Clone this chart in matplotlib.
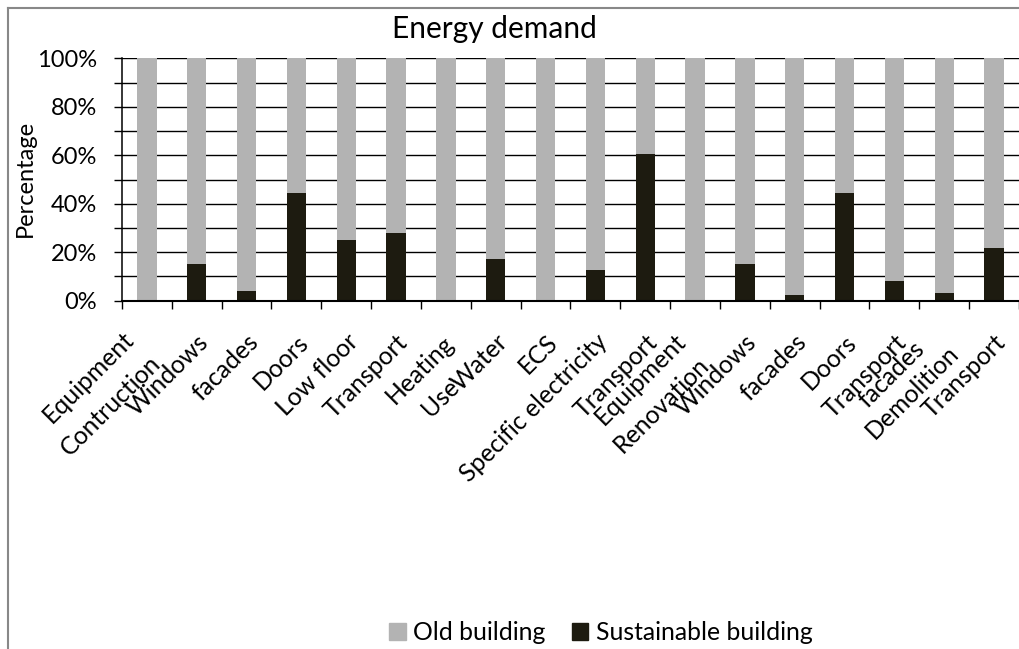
import matplotlib
matplotlib.use('Agg')
import matplotlib.pyplot as plt
from matplotlib.lines import Line2D
from matplotlib.patches import Patch
import numpy as np

plt.rcParams['font.family'] = ['Lato', 'DejaVu Sans']

# Data (percent of energy demand).
categories = ['Equipment', 'Windows', 'facades', 'Doors', 'Low floor', 'Transport',
              'Heating', 'Water', 'ECS', 'Specific electricity', 'Transport',
              'Equipment', 'Windows', 'facades', 'Doors', 'Transport', 'facades',
              'Transport']
groups = ['Contruction', 'Use', 'Renovation', 'Demolition']
group_first = [0, 6, 11, 16]
sustainable = [0, 15.1, 4.0, 44.6, 25.2, 28.1, 0, 17.3, 0, 12.7, 60.5, 0,
               15.1, 2.3, 44.6, 8.1, 3.2, 21.7]
old = [100, 84.9, 96.0, 55.4, 74.8, 71.9, 100, 82.7, 100, 87.3, 39.5, 100,
       84.9, 97.7, 55.4, 91.9, 96.8, 78.3]

GREY = '#b3b3b3'
DARK = '#1d1b10'
W, H = 1020, 649
FS = 17
FS_CAT = 17.8

fig = plt.figure(figsize=(W / 100, H / 100), dpi=100)
ax_top, ax_bot = 57.5, 300.7
ax = fig.add_axes([122 / W, 1 - ax_bot / H, (1019 - 122) / W, (ax_bot - ax_top) / H])

x = np.arange(len(categories)) + 0.5
ax.bar(x, sustainable, width=0.39, color=DARK, label='Sustainable building')
ax.bar(x, old, width=0.39, bottom=sustainable, color=GREY, label='Old building')

ax.set_xlim(0, len(categories))
ax.set_ylim(0, 100.4)
ax.set_axisbelow(True)

ax.set_yticks(np.arange(0, 101, 20))
ax.set_yticks(np.arange(10, 100, 20), minor=True)
ax.set_yticklabels(['%d%%' % v for v in range(0, 101, 20)], fontsize=FS)
ax.set_xticks(np.arange(0, len(categories) + 1))
ax.tick_params(axis='x', labelbottom=False)
ax.tick_params(which='both', direction='out', length=5.8, width=1.0, color='black')
ax.tick_params(axis='y', pad=12)
ax.yaxis.grid(True, which='both', color='black', lw=1.0)

for s in ('top', 'right'):
    ax.spines[s].set_visible(False)
ax.spines['left'].set_linewidth(1.1)
ax.spines['bottom'].set_linewidth(1.5)

# Category labels: ink end offset (px) from bar centre / axis line.
default_end = (4, 35)
label_end = {0: (-21, 32), 6: (0, 36), 11: (-17, 34), 16: (-28, 42)}
group_end = [(6, 56), (5, 80), (6, 58), (7, 46)]


def put_label(text, xc, end):
    dx, dy = end
    # shift from the ink corner to the text anchor
    ax.annotate(text, xy=(xc, 0), xycoords=ax.get_xaxis_transform(),
                xytext=((dx + 4) * 0.72, -(dy + 2.6) * 0.72),
                textcoords='offset points', rotation=45, ha='right',
                va='center', rotation_mode='anchor', fontsize=FS_CAT,
                annotation_clip=False)


for i, name in enumerate(categories):
    put_label(name, x[i], label_end.get(i, default_end))
for name, first, end in zip(groups, group_first, group_end):
    put_label(name, x[first], end)

fig.text(494 / W, 1 - 38 / H, 'Energy demand', ha='center', va='baseline',
         fontsize=21.5)
fig.text(25 / W, 1 - 178 / H, 'Percentage', rotation=90, ha='center',
         va='center', fontsize=FS)

handles = [Patch(color=GREY, label='Old building'),
           Patch(color=DARK, label='Sustainable building')]
fig.legend(handles=handles, loc='center left', bbox_to_anchor=(389 / W, 1 - 633 / H),
           ncol=2, frameon=False, fontsize=FS_CAT, handlelength=0.68,
           handleheight=0.68, handletextpad=0.3, columnspacing=1.05,
           borderpad=0, borderaxespad=0)

# chart area border (top and left visible in the crop)
fig.add_artist(Line2D([8 / W, 1.0], [1 - 7.5 / H] * 2, color='#888888', lw=1.5,
                      transform=fig.transFigure))
fig.add_artist(Line2D([8 / W] * 2, [0, 1 - 7.5 / H], color='#888888', lw=1.5,
                      transform=fig.transFigure))

fig.savefig('out.png', dpi=100)
